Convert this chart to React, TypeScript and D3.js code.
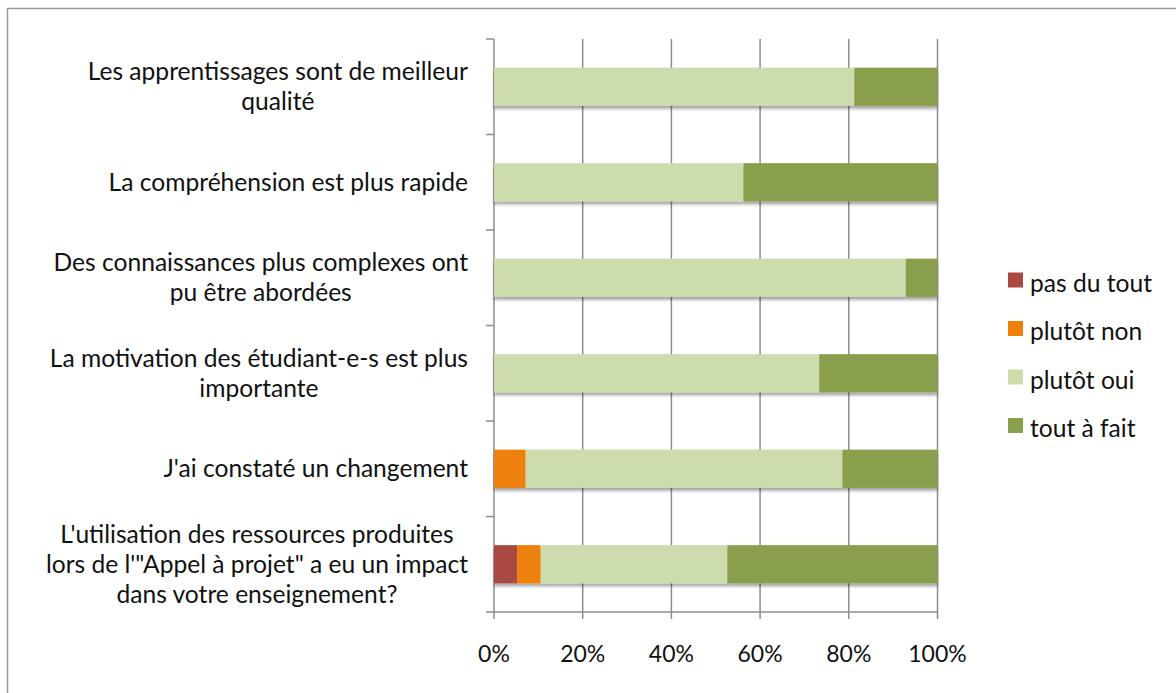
import React, { useEffect, useRef } from "react";
import * as d3 from "d3";

const categories: string[][] = [
  ["Les apprentissages sont de meilleur", "qualité"],
  ["La compréhension est plus rapide"],
  ["Des connaissances plus complexes ont", "pu être abordées"],
  ["La motivation des étudiant-e-s est plus", "importante"],
  ["J'ai constaté un changement"],
  ["L'utilisation des ressources produites", "lors de l'\"Appel à projet\" a eu un impact", "dans votre enseignement?"],
];

const seriesNames = ["pas du tout", "plutôt non", "plutôt oui", "tout à fait"];
const seriesColors = ["#A94A42", "#EE8108", "#CDDCAC", "#8A9F4B"];

const pasDuTout = [0, 0, 0, 0, 0, 5.26];
const plutotNon = [0, 0, 0, 0, 7.14, 5.26];
const plutotOui = [81.25, 56.25, 92.86, 73.33, 71.43, 42.11];
const toutAFait = [18.75, 43.75, 7.14, 26.67, 21.43, 47.37];

const xTicks = [0, 20, 40, 60, 80, 100];

const FONT = "Lato, 'Open Sans', sans-serif";

export default function App() {
  const ref = useRef<SVGSVGElement>(null);

  useEffect(() => {
    const svg = d3.select(ref.current);
    svg.selectAll("*").remove();

    const defs = svg.append("defs");
    const f = defs.append("filter").attr("id", "shadow").attr("x", "-5%").attr("y", "-20%").attr("width", "110%").attr("height", "160%");
    f.append("feDropShadow").attr("dx", 0).attr("dy", 3).attr("stdDeviation", 1.8).attr("flood-color", "#000").attr("flood-opacity", 0.35);

    // outer border
    svg.append("rect").attr("x", 7.5).attr("y", 8.5).attr("width", 1200).attr("height", 700)
      .attr("fill", "#fff").attr("stroke", "#9a9a9a").attr("stroke-width", 1.5);

    const x = d3.scaleLinear().domain([0, 100]).range([494, 937.5]);
    const idx = categories.map((_, i) => String(i));
    const y = d3.scaleBand<string>().domain(idx).range([39, 612]).paddingInner(0.6).paddingOuter(0.3);
    const step = y.step();

    const grid = "#8d8d8d";
    // vertical gridlines
    svg.append("g").selectAll("line").data(xTicks).join("line")
      .attr("x1", (d) => x(d)).attr("x2", (d) => x(d))
      .attr("y1", 39).attr("y2", 619)
      .attr("stroke", grid).attr("stroke-width", 1.5);

    // y axis ticks
    const yTickPos = d3.range(categories.length + 1).map((i) => 39 + i * step);
    svg.append("g").selectAll("line").data(yTickPos).join("line")
      .attr("x1", 486).attr("x2", x(0)).attr("y1", (d) => d).attr("y2", (d) => d)
      .attr("stroke", grid).attr("stroke-width", 1.5);
    svg.append("line").attr("x1", x(0)).attr("x2", x(100)).attr("y1", 612).attr("y2", 612)
      .attr("stroke", grid).attr("stroke-width", 1.5);

    // stacked bars
    const rows = categories.map((_, i) => ({
      i: String(i),
      v: [pasDuTout[i], plutotNon[i], plutotOui[i], toutAFait[i]],
    }));
    const stack = d3.stack<any>().keys([0, 1, 2, 3] as any).value((d: any, k: any) => d.v[k]);
    const layers = stack(rows as any);

    const gBars = svg.append("g").attr("filter", "url(#shadow)");
    layers.forEach((layer, li) => {
      gBars.append("g").selectAll("rect").data(layer).join("rect")
        .attr("x", (d) => x(d[0]))
        .attr("width", (d) => Math.max(0, x(d[1]) - x(d[0])))
        .attr("y", (d: any) => y(d.data.i)!)
        .attr("height", y.bandwidth())
        .attr("fill", seriesColors[li]);
    });

    // x tick labels
    svg.append("g").selectAll("text").data(xTicks).join("text")
      .attr("x", (d) => x(d)).attr("y", 662)
      .attr("text-anchor", "middle")
      .attr("font-family", FONT).attr("font-size", 23).attr("fill", "#111")
      .text((d) => `${d}%`);

    // category labels
    const fs = 24.6;
    const lh = 30;
    const gLab = svg.append("g").attr("font-family", FONT).attr("font-size", fs).attr("fill", "#111");
    categories.forEach((lines, i) => {
      const cy = y(String(i))! + y.bandwidth() / 2;
      const t = gLab.append("text").attr("text-anchor", "middle");
      lines.forEach((ln, j) => {
        t.append("tspan").attr("y", cy + (j - (lines.length - 1) / 2) * lh + fs * 0.35).text(ln);
      });
      // block centered, right edge at 468
      const tspans = t.selectAll<SVGTSpanElement, unknown>("tspan").nodes();
      const maxW = d3.max(tspans, (n) => n.getComputedTextLength()) || 0;
      t.selectAll("tspan").attr("x", 468 - maxW / 2);
    });

    // legend
    const gLeg = svg.append("g");
    seriesNames.forEach((name, i) => {
      const cy = 280 + i * 48.5;
      gLeg.append("rect").attr("x", 1008).attr("y", cy - 7.5).attr("width", 15).attr("height", 15).attr("fill", seriesColors[i]);
      gLeg.append("text").attr("x", 1030).attr("y", cy + 11.5)
        .attr("font-family", FONT).attr("font-size", 24.6).attr("fill", "#111").text(name);
    });
  }, []);

  return (
    <svg ref={ref} width={1176} height={693}
      style={{ position: "absolute", left: 0, top: 0, background: "#fff" }} />
  );
}
